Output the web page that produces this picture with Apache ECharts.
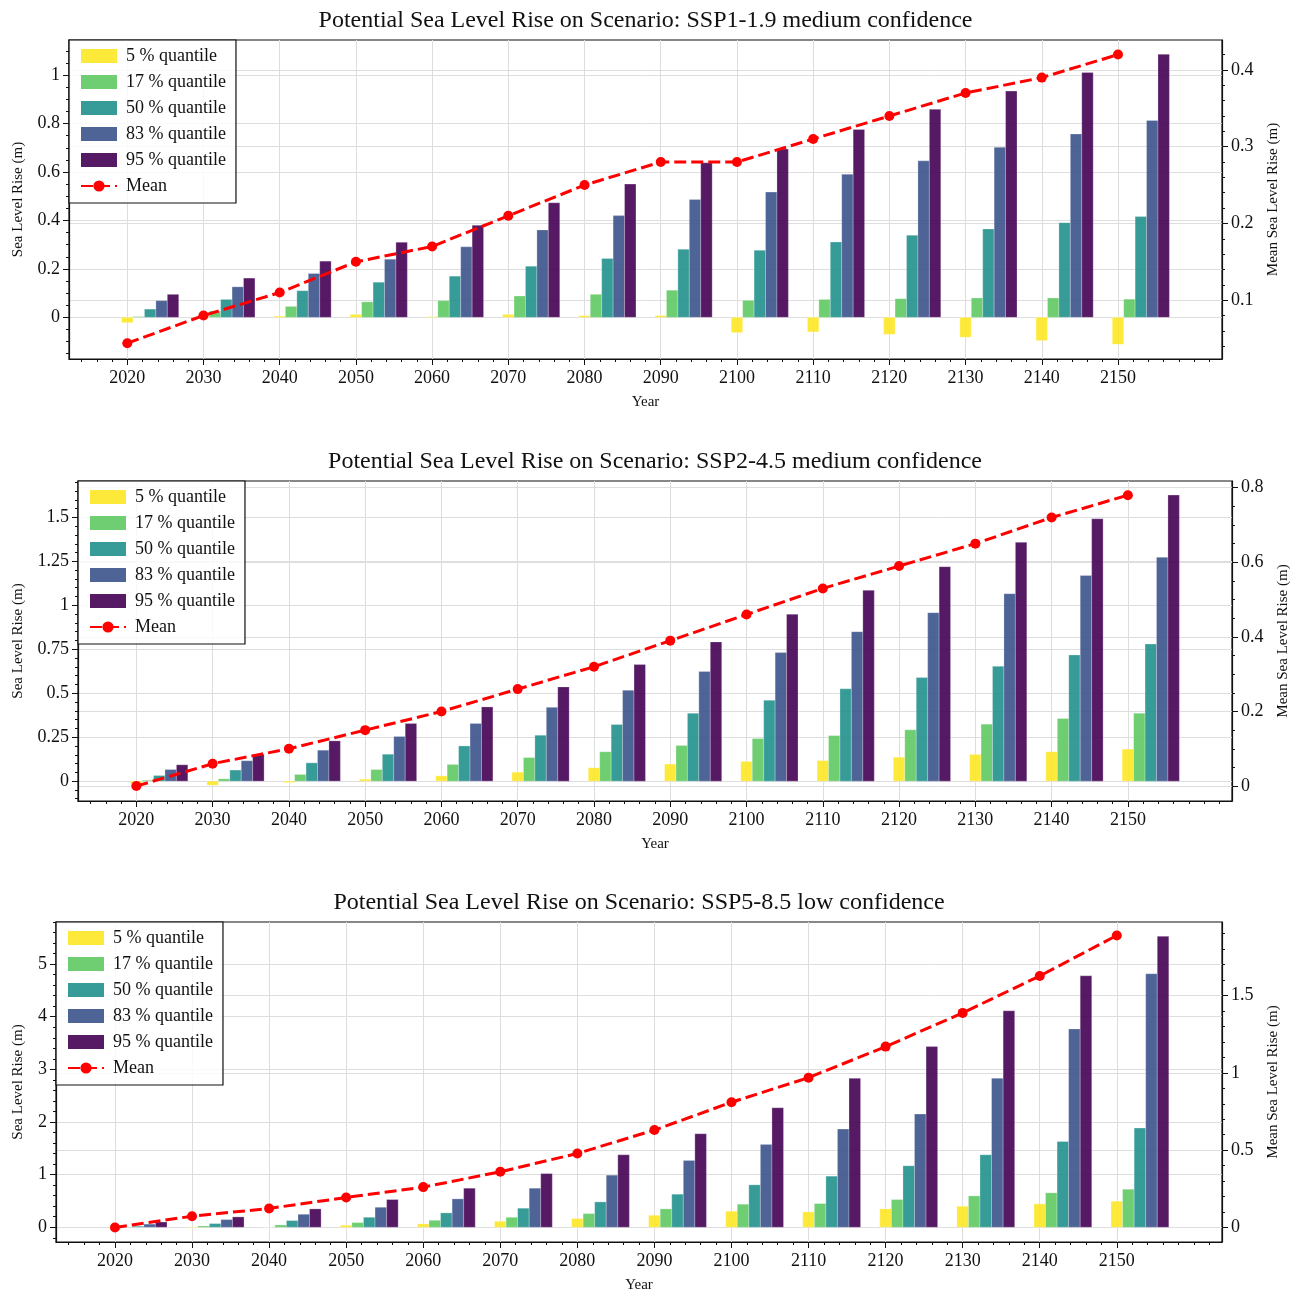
<!DOCTYPE html>
<html><head><meta charset="utf-8">
<script src="https://cdn.jsdelivr.net/npm/echarts@6/dist/echarts.min.js"></script>
<style>html,body{margin:0;padding:0;background:#fff}#c{width:1301px;height:1293px}</style>
</head><body><div id="c"></div>
<script>
// ---------------- DATA ----------------
const years = [2020,2030,2040,2050,2060,2070,2080,2090,2100,2110,2120,2130,2140,2150];
const quantileNames = ['5 % quantile','17 % quantile','50 % quantile','83 % quantile','95 % quantile'];
const meanName = 'Mean';

// SSP1-1.9 medium confidence
const ssp119_q05 = [-0.022,0.003,0.005,0.012,0.003,0.012,0.007,0.007,-0.063,-0.060,-0.070,-0.082,-0.096,-0.111];
const ssp119_q17 = [0.003,0.026,0.045,0.064,0.069,0.088,0.095,0.112,0.070,0.074,0.077,0.080,0.080,0.075];
const ssp119_q50 = [0.034,0.074,0.110,0.145,0.170,0.211,0.243,0.281,0.277,0.311,0.339,0.365,0.391,0.416];
const ssp119_q83 = [0.069,0.126,0.181,0.240,0.291,0.361,0.420,0.487,0.517,0.591,0.646,0.702,0.757,0.813];
const ssp119_q95 = [0.095,0.162,0.232,0.310,0.380,0.473,0.550,0.638,0.695,0.776,0.859,0.934,1.011,1.086];
const ssp119_mean = [0.044,0.08,0.11,0.15,0.17,0.21,0.25,0.28,0.28,0.31,0.34,0.37,0.39,0.42];

// SSP2-4.5 medium confidence
const ssp245_q05 = [-0.015,-0.023,-0.008,0.011,0.030,0.051,0.076,0.097,0.112,0.117,0.136,0.152,0.167,0.182];
const ssp245_q17 = [0.005,0.013,0.038,0.066,0.095,0.134,0.167,0.203,0.242,0.259,0.292,0.324,0.356,0.386];
const ssp245_q50 = [0.032,0.063,0.104,0.153,0.200,0.261,0.322,0.386,0.460,0.525,0.589,0.653,0.718,0.780];
const ssp245_q83 = [0.066,0.116,0.176,0.254,0.328,0.420,0.517,0.623,0.731,0.850,0.958,1.066,1.169,1.273];
const ssp245_q95 = [0.093,0.153,0.229,0.328,0.422,0.536,0.663,0.792,0.949,1.085,1.220,1.358,1.492,1.627];
const ssp245_mean = [0.0,0.06,0.10,0.15,0.20,0.26,0.32,0.39,0.46,0.53,0.59,0.65,0.72,0.78];

// SSP5-8.5 low confidence
const ssp585_q05 = [0.0,-0.01,0.0,0.038,0.063,0.114,0.165,0.228,0.305,0.292,0.349,0.400,0.444,0.495];
const ssp585_q17 = [0.005,0.025,0.044,0.089,0.133,0.190,0.260,0.349,0.438,0.450,0.527,0.596,0.654,0.723];
const ssp585_q50 = [0.02,0.07,0.127,0.190,0.273,0.362,0.482,0.628,0.806,0.971,1.168,1.377,1.631,1.885];
const ssp585_q83 = [0.06,0.146,0.247,0.380,0.539,0.742,0.990,1.269,1.574,1.865,2.151,2.830,3.769,4.816];
const ssp585_q95 = [0.10,0.197,0.349,0.527,0.742,1.020,1.377,1.777,2.270,2.830,3.433,4.112,4.778,5.527];
const ssp585_mean = [0.0,0.073,0.123,0.194,0.261,0.36,0.479,0.63,0.81,0.969,1.17,1.388,1.627,1.889];

// tick labels
const xTicks = years;
const ssp119_leftTicks = [0,0.2,0.4,0.6,0.8,1];
const ssp119_rightTicks = [0.1,0.2,0.3,0.4];
const ssp245_leftTicks = [0,0.25,0.5,0.75,1,1.25,1.5];
const ssp245_rightTicks = [0,0.2,0.4,0.6,0.8];
const ssp585_leftTicks = [0,1,2,3,4,5];
const ssp585_rightTicks = [0,0.5,1,1.5];

// ---------------- STYLE / LAYOUT ----------------
const FONT = '"Liberation Serif","Times New Roman",serif';
const COLORS = ['rgba(253,231,37,0.9)','rgba(94,201,98,0.9)','rgba(33,145,140,0.9)','rgba(59,82,139,0.9)','rgba(68,1,84,0.9)'];
const BAR_W = 1.5;
const X_MIN = 2012.35, X_MAX = 2163.65;
const GRIDLINE = '#dedede';
const NAME_OFF = 26; // left axis name gap = grid.left - NAME_OFF

const panels = [
  {title:'Potential Sea Level Rise on Scenario: SSP1-1.9 medium confidence',
   q:[ssp119_q05,ssp119_q17,ssp119_q50,ssp119_q83,ssp119_q95], mean:ssp119_mean,
   grid:{left:69,top:40,width:1153,height:319},
   yL:{min:-0.172,max:1.145,ticks:ssp119_leftTicks,step:0.05},
   yR:{min:0.0234,max:0.439,ticks:ssp119_rightTicks,step:0.02}},
  {title:'Potential Sea Level Rise on Scenario: SSP2-4.5 medium confidence',
   q:[ssp245_q05,ssp245_q17,ssp245_q50,ssp245_q83,ssp245_q95], mean:ssp245_mean,
   grid:{left:78,top:481,width:1154,height:320},
   yL:{min:-0.113,max:1.707,ticks:ssp245_leftTicks,step:0.05},
   yR:{min:-0.040,max:0.818,ticks:ssp245_rightTicks,step:0.05}},
  {title:'Potential Sea Level Rise on Scenario: SSP5-8.5 low confidence',
   q:[ssp585_q05,ssp585_q17,ssp585_q50,ssp585_q83,ssp585_q95], mean:ssp585_mean,
   grid:{left:56,top:922,width:1166,height:320},
   yL:{min:-0.28,max:5.80,ticks:ssp585_leftTicks,step:0.2},
   yR:{min:-0.094,max:1.976,ticks:ssp585_rightTicks,step:0.1}}
];

function minorValues(min, max, step, majors){
  const out = [];
  const start = Math.ceil(min/step - 1e-9);
  const end = Math.floor(max/step + 1e-9);
  for (let k = start; k <= end; k++){
    const v = +(k*step).toFixed(6);
    if (!majors.some(m => Math.abs(m - v) < 1e-9)) out.push(v);
  }
  return out;
}
const fmt = v => String(+(+v).toFixed(3));
const TXT = {fontFamily:FONT, color:'#111'};

const grid = [], xAxis = [], yAxis = [], series = [], title = [], legend = [];
panels.forEach((p, pi) => {
  grid.push({left:p.grid.left, top:p.grid.top, width:p.grid.width, height:p.grid.height,
    show:true, borderColor:'#111', borderWidth:1.2, backgroundColor:'transparent',
    containLabel:false, outerBoundsMode:'none'});
  const cx = p.grid.left + p.grid.width/2;
  title.push({text:p.title, left:cx, top:p.grid.top - 31, textAlign:'center', padding:0,
    textStyle:Object.assign({fontSize:24, fontWeight:'normal'}, TXT)});
  // major x axis
  const xi = xAxis.length;
  xAxis.push({type:'value', gridIndex:pi, min:X_MIN, max:X_MAX, position:'bottom',
    name:'Year', nameLocation:'middle', nameGap:36, nameMoveOverlap:false,
    nameTextStyle:Object.assign({fontSize:15}, TXT),
    axisLine:{show:true, onZero:false, lineStyle:{color:'#111', width:1.2}},
    axisTick:{show:true, inside:false, length:6, customValues:xTicks, lineStyle:{color:'#111', width:1}},
    axisLabel:Object.assign({show:true, customValues:xTicks, margin:10, fontSize:18, formatter:v=>String(v)}, TXT),
    splitLine:{show:true, lineStyle:{color:GRIDLINE, width:1}}});
  // minor x axis
  xAxis.push({type:'value', gridIndex:pi, min:X_MIN, max:X_MAX, position:'bottom',
    axisLine:{show:false, onZero:false}, axisLabel:{show:false}, splitLine:{show:false},
    axisTick:{show:true, inside:false, length:3, customValues:minorValues(X_MIN, X_MAX, 2, xTicks), lineStyle:{color:'#111', width:1}}});
  // left y
  const yl = yAxis.length;
  yAxis.push({type:'value', gridIndex:pi, min:p.yL.min, max:p.yL.max, position:'left',
    name:'Sea Level Rise (m)', nameLocation:'middle', nameGap:p.grid.left - NAME_OFF, nameMoveOverlap:false,
    nameTextStyle:Object.assign({fontSize:15}, TXT),
    axisLine:{show:true, onZero:false, lineStyle:{color:'#111', width:1.2}},
    axisTick:{show:true, length:6, customValues:p.yL.ticks, lineStyle:{color:'#111'}},
    axisLabel:Object.assign({show:true, customValues:p.yL.ticks, margin:9, fontSize:18, formatter:fmt}, TXT),
    splitLine:{show:true, lineStyle:{color:GRIDLINE, width:1}}});
  yAxis.push({type:'value', gridIndex:pi, min:p.yL.min, max:p.yL.max, position:'left',
    axisLine:{show:false, onZero:false}, axisLabel:{show:false}, splitLine:{show:false},
    axisTick:{show:true, length:3, customValues:minorValues(p.yL.min, p.yL.max, p.yL.step, p.yL.ticks), lineStyle:{color:'#111'}}});
  // right y
  const yr = yAxis.length;
  yAxis.push({type:'value', gridIndex:pi, min:p.yR.min, max:p.yR.max, position:'right',
    name:'Mean Sea Level Rise (m)', nameLocation:'middle', nameGap:44, nameRotate:90, nameMoveOverlap:false,
    nameTextStyle:Object.assign({fontSize:15}, TXT),
    axisLine:{show:true, onZero:false, lineStyle:{color:'#111', width:1.2}},
    axisTick:{show:true, length:6, customValues:p.yR.ticks, lineStyle:{color:'#111'}},
    axisLabel:Object.assign({show:true, customValues:p.yR.ticks, margin:9, fontSize:18, formatter:fmt}, TXT),
    splitLine:{show:true, lineStyle:{color:GRIDLINE, width:1}}});
  yAxis.push({type:'value', gridIndex:pi, min:p.yR.min, max:p.yR.max, position:'right',
    axisLine:{show:false, onZero:false}, axisLabel:{show:false}, splitLine:{show:false},
    axisTick:{show:true, length:3, customValues:minorValues(p.yR.min, p.yR.max, p.yR.step, p.yR.ticks), lineStyle:{color:'#111'}}});

  // bars
  p.q.forEach((vals, k) => {
    series.push({type:'custom', name:quantileNames[k], xAxisIndex:xi, yAxisIndex:yl, z:2,
      itemStyle:{color:COLORS[k]},
      encode:{x:0, y:1},
      data: years.map((yr0, i) => [yr0, vals[i]]),
      renderItem:(params, api) => {
        const x = api.value(0) + k*BAR_W;
        const v = api.value(1);
        const a = api.coord([x - BAR_W/2, 0]);
        const b = api.coord([x + BAR_W/2, v]);
        return {type:'rect',
          shape:{x:a[0], y:Math.min(a[1], b[1]), width:b[0]-a[0], height:Math.abs(b[1]-a[1])},
          style:{fill:COLORS[k], stroke:'rgba(255,255,255,0.5)', lineWidth:0.5}};
      }});
  });
  // mean line
  series.push({type:'line', name:meanName, xAxisIndex:xi, yAxisIndex:yr, z:5,
    data: years.map((yr0, i) => [yr0, p.mean[i]]),
    symbol:'circle', symbolSize:10, showSymbol:true,
    lineStyle:{color:'#ff0000', width:3, type:[12,5]},
    itemStyle:{color:'#ff0000'}});

  legend.push({show:true, orient:'vertical', left:p.grid.left, top:p.grid.top,
    backgroundColor:'rgba(255,255,255,0.8)', borderColor:'#111', borderWidth:1.2,
    padding:[7,10,8,11], itemWidth:36, itemHeight:14, itemGap:8,
    textStyle:Object.assign({fontSize:18, lineHeight:18, padding:[0,0,0,4]}, TXT),
    selectedMode:false, z:10,
    data: quantileNames.map(n => ({name:n, icon:'rect'})).concat([{name:meanName}])});
});

const chart = echarts.init(document.getElementById('c'), null, {renderer:'canvas'});
chart.setOption({animation:false, backgroundColor:'#fff', title, legend, grid, xAxis, yAxis, series});
</script>
</body></html>
